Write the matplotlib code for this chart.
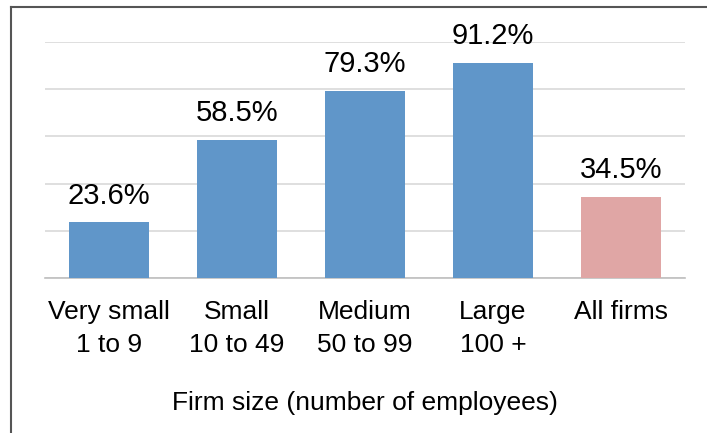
import matplotlib.pyplot as plt
from matplotlib.lines import Line2D

plt.rcParams['font.family'] = ['Liberation Sans', 'DejaVu Sans']

categories = ['Very small\n1 to 9', 'Small\n10 to 49', 'Medium\n50 to 99',
              'Large\n100 +', 'All firms']
shares = [23.6, 58.5, 79.3, 91.2, 34.5]
colors = ['#6096C9', '#6096C9', '#6096C9', '#6096C9', '#E0A6A5']
grid_ticks = [0, 20, 40, 60, 80, 100]

fig = plt.figure(figsize=(7.07, 4.33), dpi=100)
ax = fig.add_axes([45 / 707, 1 - 278 / 433, 640 / 707, 236 / 433])

x = range(len(categories))
bars = ax.bar(x, shares, width=0.625, color=colors, zorder=3)

for b, v in zip(bars, shares):
    ax.annotate(f'{v:.1f}%', (b.get_x() + b.get_width() / 2, v),
                xytext=(0, 9), textcoords='offset points',
                ha='center', va='bottom', fontsize=21, color='black')

ax.set_xlim(-0.5, len(categories) - 0.5)
ax.set_ylim(0, 100)
ax.set_yticks(grid_ticks)
ax.yaxis.grid(True, color='#D9D9D9', linewidth=1.2, zorder=0)
ax.tick_params(axis='y', left=False, labelleft=False)
ax.set_xticks(list(x))
ax.set_xticklabels(categories, fontsize=19, linespacing=1.45)
ax.tick_params(axis='x', length=0, pad=16)
for side in ['top', 'right', 'left']:
    ax.spines[side].set_visible(False)
ax.spines['bottom'].set_color('#BFBFBF')
ax.spines['bottom'].set_linewidth(1.2)

ax.set_xlabel('Firm size (number of employees)', fontsize=19, labelpad=25)

# partial frame along the top and left edges
fig.add_artist(Line2D([11 / 707, 1], [1 - 7 / 433, 1 - 7 / 433],
                      transform=fig.transFigure, color='#555555', lw=1.5))
fig.add_artist(Line2D([11 / 707, 11 / 707], [0, 1 - 7 / 433],
                      transform=fig.transFigure, color='#555555', lw=1.5))

fig.savefig('out.png', dpi=100, facecolor='white')
